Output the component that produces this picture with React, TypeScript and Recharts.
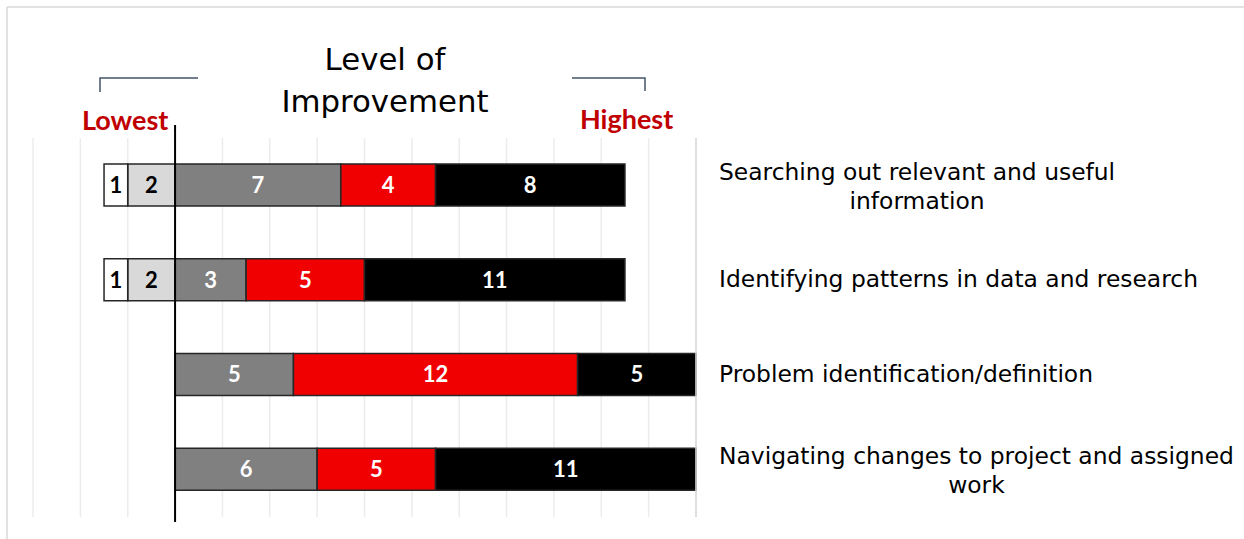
import React from 'react';
import { BarChart, Bar, XAxis, YAxis, CartesianGrid, ReferenceLine, LabelList } from 'recharts';

// skill categories, top to bottom ("\n" = line break in the label)
const skills = [
  'Searching out relevant and useful\ninformation',
  'Identifying patterns in data and research',
  'Problem identification/definition',
  'Navigating changes to project and assigned\nwork',
];

// number of responses per level of improvement (1 = lowest, 5 = highest)
const level1 = [1, 1, 0, 0];
const level2 = [2, 2, 0, 0];
const level3 = [7, 3, 5, 6];
const level4 = [4, 5, 12, 5];
const level5 = [8, 11, 5, 11];

const xTicks = [-6, -4, -2, 0, 2, 4, 6, 8, 10, 12, 14, 16, 18, 20, 22];
const titleLines = ['Level of', 'Improvement'];

// levels 1 and 2 sit left of zero, so they are stored negative
const data = skills.map((skill, i) => ({
  skill,
  l1: level1[i] ? -level1[i] : null,
  l2: level2[i] ? -level2[i] : null,
  l3: level3[i] || null,
  l4: level4[i] || null,
  l5: level5[i] || null,
}));

const LABEL_FONT = '"DejaVu Sans", sans-serif';
const LABEL_SIZE = 23.4;

const ctx = document.createElement('canvas').getContext('2d');
const textWidth = (t: string) => {
  if (!ctx) return t.length * 11;
  ctx.font = `${LABEL_SIZE}px "DejaVu Sans"`;
  return ctx.measureText(t).width;
};

const SkillTick = (props: any) => {
  const { x, y, payload } = props;
  const lines: string[] = String(payload.value).split('\n');
  const left = x + 23;
  const w0 = textWidth(lines[0]);
  const n = lines.length;
  return (
    <g>
      {lines.map((line, i) => (
        <text
          key={i}
          x={i === 0 ? left : left + w0 / 2}
          y={y + 7 + (i - (n - 1) / 2) * 29 + (n > 1 ? 2 : 0)}
          textAnchor={i === 0 ? 'start' : 'middle'}
          fontFamily={LABEL_FONT}
          fontSize={LABEL_SIZE}
          fill="#000"
        >
          {line}
        </text>
      ))}
    </g>
  );
};

const fmt = (v: any) => (v == null ? '' : Math.abs(v));

const labelStyle = {
  fontFamily: 'Lato, sans-serif',
  fontWeight: 700,
  fontSize: 22,
};

const ZeroLine = (p: any) => {
  const top = Math.min(p.y1, p.y2);
  const bottom = Math.max(p.y1, p.y2);
  return <line x1={p.x1} x2={p.x2} y1={top - 13} y2={bottom + 5} stroke="#000" strokeWidth={2} />;
};

const series = [
  { key: 'l2', fill: '#D9D9D9', text: '#000' },
  { key: 'l1', fill: '#FFFFFF', text: '#000' },
  { key: 'l3', fill: '#808080', text: '#fff' },
  { key: 'l4', fill: '#F00000', text: '#fff' },
  { key: 'l5', fill: '#000000', text: '#fff' },
];

export default function App() {
  return (
    <div style={{ position: 'absolute', left: 0, top: 0, width: 1244, height: 539, background: '#fff' }}>
      <BarChart
        width={1244}
        height={539}
        data={data}
        layout="vertical"
        stackOffset="sign"
        barSize={42}
        margin={{ top: 138, right: 0, bottom: 22, left: 33 }}
      >
        <CartesianGrid horizontal={false} stroke="#ececec" strokeWidth={1.5} />
        <XAxis type="number" domain={[-6, 22]} ticks={xTicks} hide height={0} />
        <YAxis
          type="category"
          dataKey="skill"
          orientation="right"
          width={548}
          interval={0}
          tickLine={false}
          tickSize={0}
          tickMargin={0}
          axisLine={{ stroke: '#d9d9d9', strokeWidth: 1.5 }}
          tick={<SkillTick />}
        />
        {series.map((s) => (
          <Bar
            key={s.key}
            dataKey={s.key}
            stackId="a"
            fill={s.fill}
            stroke="#262626"
            strokeWidth={1.5}
            isAnimationActive={false}
          >
            <LabelList dataKey={s.key} position="center" formatter={fmt} fill={s.text} style={labelStyle} />
          </Bar>
        ))}
        <ReferenceLine x={0} shape={<ZeroLine />} ifOverflow="visible" />
      </BarChart>
      <svg
        width={1244}
        height={539}
        style={{ position: 'absolute', left: 0, top: 0, pointerEvents: 'none' }}
      >
        <line x1={7} y1={7} x2={1244} y2={7} stroke="#d9d9d9" strokeWidth={1.5} />
        <line x1={7} y1={7} x2={7} y2={539} stroke="#d9d9d9" strokeWidth={1.5} />
        {titleLines.map((t, i) => (
          <text
            key={t}
            x={385}
            y={70 + i * 42}
            textAnchor="middle"
            fontFamily={LABEL_FONT}
            fontSize={30.8}
            fill="#000"
          >
            {t}
          </text>
        ))}
        <polyline points="100,92 100,78 198,78" fill="none" stroke="#44546A" strokeWidth={1.5} />
        <polyline points="572,78 645,78 645,91" fill="none" stroke="#44546A" strokeWidth={1.5} />
        <text x={82} y={130} fontFamily="Lato, sans-serif" fontWeight={700} fontSize={27} fill="#C00000">
          Lowest
        </text>
        <text x={580} y={129} fontFamily="Lato, sans-serif" fontWeight={700} fontSize={27} fill="#C00000">
          Highest
        </text>
      </svg>
    </div>
  );
}
